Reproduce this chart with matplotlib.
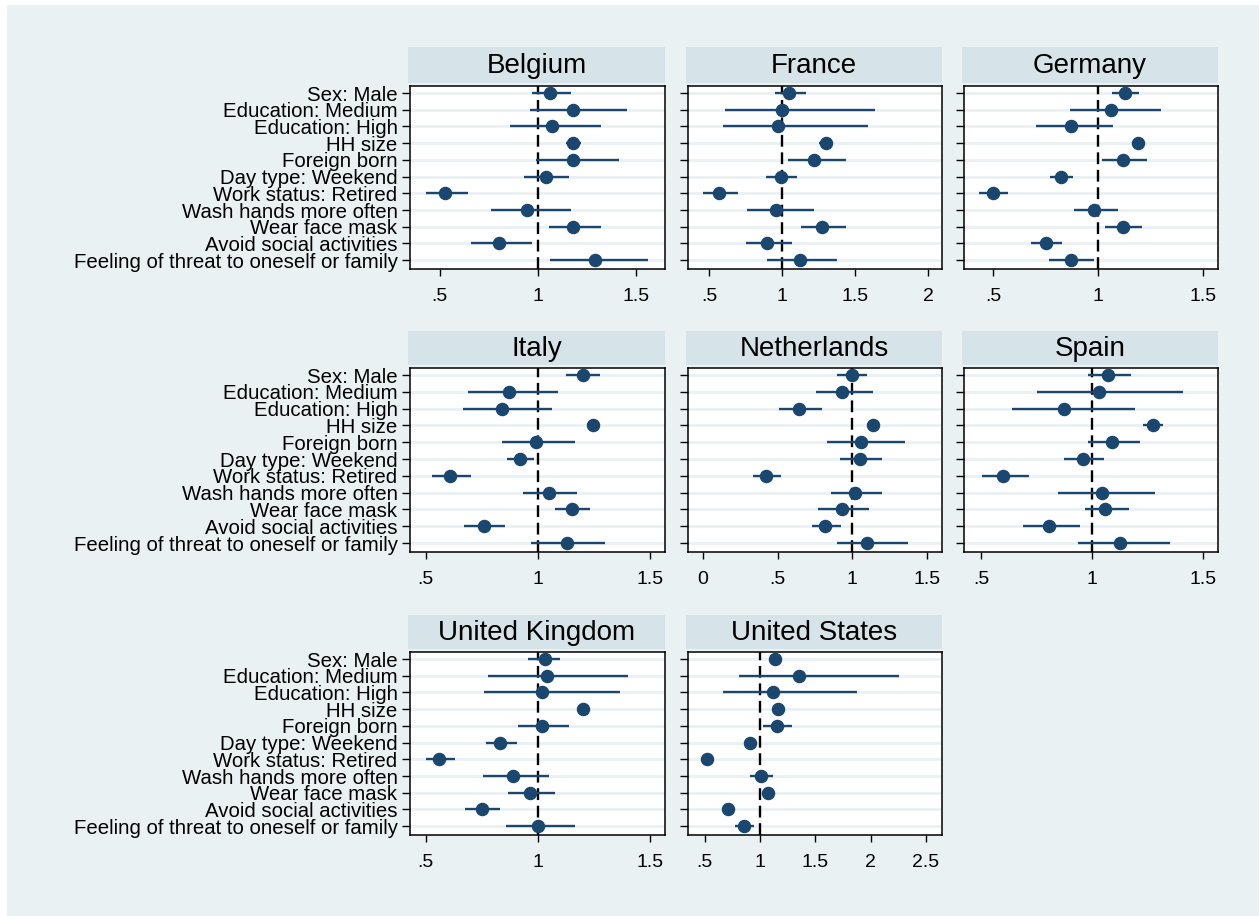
import numpy as np
import matplotlib.pyplot as plt

plt.rcParams['font.family'] = ['Liberation Sans', 'DejaVu Sans']

labels = ['Sex: Male', 'Education: Medium', 'Education: High', 'HH size', 'Foreign born',
          'Day type: Weekend', 'Work status: Retired', 'Wash hands more often',
          'Wear face mask', 'Avoid social activities', 'Feeling of threat to oneself or family']

countries = ['Belgium', 'France', 'Germany', 'Italy', 'Netherlands', 'Spain',
             'United Kingdom', 'United States']

# odds ratios with lower / upper CI, same order as labels
belgium_or = [1.06, 1.18, 1.07, 1.18, 1.18, 1.04, 0.53, 0.945, 1.18, 0.80, 1.29]
belgium_lo = [0.97, 0.96, 0.86, 1.14, 0.99, 0.93, 0.43, 0.76, 1.055, 0.66, 1.06]
belgium_hi = [1.17, 1.45, 1.32, 1.22, 1.41, 1.155, 0.645, 1.17, 1.32, 0.97, 1.56]

france_or = [1.05, 1.00, 0.97, 1.30, 1.22, 0.99, 0.565, 0.96, 1.275, 0.90, 1.12]
france_lo = [0.955, 0.61, 0.595, 1.25, 1.04, 0.89, 0.46, 0.76, 1.13, 0.755, 0.90]
france_hi = [1.165, 1.64, 1.59, 1.345, 1.44, 1.105, 0.70, 1.22, 1.44, 1.07, 1.38]

germany_or = [1.13, 1.06, 0.87, 1.19, 1.12, 0.825, 0.50, 0.98, 1.12, 0.75, 0.87]
germany_lo = [1.065, 0.865, 0.705, 1.175, 1.02, 0.77, 0.435, 0.885, 1.035, 0.68, 0.765]
germany_hi = [1.195, 1.30, 1.07, 1.205, 1.235, 0.88, 0.57, 1.095, 1.21, 0.83, 0.98]

italy_or = [1.20, 0.87, 0.84, 1.245, 0.99, 0.92, 0.61, 1.05, 1.15, 0.76, 1.13]
italy_lo = [1.125, 0.69, 0.665, 1.225, 0.84, 0.86, 0.53, 0.935, 1.075, 0.67, 0.97]
italy_hi = [1.275, 1.09, 1.06, 1.27, 1.165, 0.98, 0.70, 1.175, 1.23, 0.855, 1.30]

netherlands_or = [1.00, 0.93, 0.64, 1.14, 1.06, 1.05, 0.42, 1.02, 0.93, 0.82, 1.10]
netherlands_lo = [0.895, 0.76, 0.51, 1.105, 0.83, 0.92, 0.335, 0.86, 0.77, 0.73, 0.895]
netherlands_hi = [1.10, 1.14, 0.80, 1.175, 1.35, 1.20, 0.52, 1.20, 1.11, 0.925, 1.37]

spain_or = [1.07, 1.03, 0.875, 1.275, 1.09, 0.96, 0.60, 1.045, 1.06, 0.805, 1.125]
spain_lo = [0.98, 0.75, 0.64, 1.23, 0.98, 0.875, 0.505, 0.845, 0.97, 0.69, 0.935]
spain_hi = [1.175, 1.41, 1.195, 1.32, 1.215, 1.055, 0.715, 1.285, 1.165, 0.945, 1.35]

uk_or = [1.03, 1.04, 1.02, 1.20, 1.02, 0.83, 0.56, 0.89, 0.965, 0.75, 1.00]
uk_lo = [0.955, 0.78, 0.76, 1.175, 0.91, 0.77, 0.50, 0.755, 0.865, 0.675, 0.86]
uk_hi = [1.10, 1.40, 1.365, 1.23, 1.14, 0.905, 0.63, 1.05, 1.075, 0.83, 1.165]

us_or = [1.14, 1.355, 1.12, 1.165, 1.15, 0.91, 0.52, 1.01, 1.07, 0.71, 0.86]
us_lo = [1.10, 0.81, 0.67, 1.14, 1.03, 0.88, 0.49, 0.91, 1.02, 0.68, 0.775]
us_hi = [1.195, 2.26, 1.875, 1.195, 1.29, 0.95, 0.56, 1.115, 1.135, 0.75, 0.95]

ticks_list = [[.5, 1, 1.5], [.5, 1, 1.5, 2], [.5, 1, 1.5],
              [.5, 1, 1.5], [0, .5, 1, 1.5], [.5, 1, 1.5],
              [.5, 1, 1.5], [.5, 1, 1.5, 2, 2.5]]

data = [(belgium_or, belgium_lo, belgium_hi), (france_or, france_lo, france_hi),
        (germany_or, germany_lo, germany_hi), (italy_or, italy_lo, italy_hi),
        (netherlands_or, netherlands_lo, netherlands_hi), (spain_or, spain_lo, spain_hi),
        (uk_or, uk_lo, uk_hi), (us_or, us_lo, us_hi)]

xlims = [(0.35, 1.645), (0.356, 2.096), (0.362, 1.571),
         (0.43, 1.565), (-0.1, 1.60), (0.423, 1.568),
         (0.43, 1.567), (0.35, 2.645)]

W, H = 1259, 916
navy = '#1a476f'
bg = '#eaf1f3'
strip_col = '#d6e3e8'

fig = plt.figure(figsize=(W / 100, H / 100), dpi=100)
fig.patch.set_facecolor('white')
fig.patches.append(plt.Rectangle((7 / W, 0), 1, 1 - 5 / H, transform=fig.transFigure,
                                 facecolor=bg, edgecolor='none', zorder=-10))

col_x = [(410, 665), (688, 942), (964, 1218)]
row_y = [(86, 269), (368, 552), (652, 835)]
strip_y = [(47, 83), (331, 365), (615, 649)]


def fmt(v):
    s = ('%g' % v)
    if s.startswith('0.'):
        s = s[1:]
    return s


y = np.arange(1, len(labels) + 1)

for i in range(0, len(countries)):
    r = i // 3
    c = i % 3
    x0, x1 = col_x[c]
    y0, y1 = row_y[r]
    ax = fig.add_axes([x0 / W, 1 - y1 / H, (x1 - x0) / W, (y1 - y0) / H])
    ax.set_facecolor('white')

    est, lo, hi = data[i]
    for j in range(0, len(labels)):
        ax.axhline(y[j], color=bg, lw=2, zorder=1)
    ax.axvline(1, color='black', lw=1.7, dashes=(5, 2.4), zorder=2)
    ax.hlines(y, lo, hi, color=navy, lw=1.7, zorder=3)
    ax.plot(est, y, 'o', color=navy, markersize=8.7, zorder=4)

    ax.set_xlim(xlims[i])
    ax.set_ylim(11.53, 0.58)
    ax.set_xticks(ticks_list[i])
    ax.set_xticklabels([fmt(t) for t in ticks_list[i]], fontsize=14)
    ax.set_yticks(y)
    if c == 0:
        ax.set_yticklabels(labels, fontsize=14.7)
    else:
        ax.set_yticklabels([])
    ax.tick_params(axis='x', length=5, width=1, pad=9, direction='out')
    ax.tick_params(axis='y', length=6, width=1, pad=3, direction='out')
    for s in ax.spines.values():
        s.set_linewidth(1.1)

    sy0, sy1 = strip_y[r]
    sax = fig.add_axes([(x0 - 2) / W, 1 - sy1 / H, (x1 - x0 + 2) / W, (sy1 - sy0) / H])
    sax.set_facecolor(strip_col)
    sax.set_xticks([])
    sax.set_yticks([])
    for s in sax.spines.values():
        s.set_visible(False)
    sax.text(0.5, 0.47, countries[i], ha='center', va='center', fontsize=20,
             transform=sax.transAxes)

fig.savefig('out.png', dpi=100, facecolor=fig.get_facecolor())
